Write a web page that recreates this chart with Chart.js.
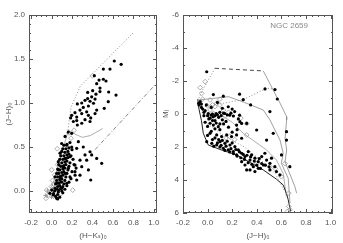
<!DOCTYPE html>
<html>
<head>
<meta charset="utf-8">
<script src="https://cdn.jsdelivr.net/npm/chart.js@4.4.1/dist/chart.umd.min.js"></script>
<style>
html, body { margin: 0; padding: 0; background: #fff; }
#wrap { position: relative; width: 343px; height: 243px; overflow: hidden; }
canvas { position: absolute; top: 0; }
#ccPlot { left: 0; }
#cmdPlot { left: 157px; }
</style>
</head>
<body>
<div id="wrap">
  <canvas id="ccPlot" width="170" height="243"></canvas>
  <canvas id="cmdPlot" width="186" height="243"></canvas>
</div>
<script>
// ---- tick labels ----
const colorTicksX = [-0.2, 0.0, 0.2, 0.4, 0.6, 0.8, 1.0];
const colorTicksJH = [0.0, 0.5, 1.0, 1.5, 2.0];
const magTicks = [-6, -4, -2, 0, 2, 4, 6];

// ---- left panel: (J-H)0 vs (H-Ks)0 ----
const ccMembers = [
  [0.613,1.477],[0.68,1.44],[0.506,1.386],[0.571,1.386],[0.418,1.31],[0.506,1.27],[0.532,1.25],
  [0.464,1.26],[0.441,1.22],[0.473,1.17],[0.402,1.14],[0.473,1.13],[0.434,1.10],[0.353,1.12],
  [0.392,1.07],[0.425,1.045],[0.353,1.05],[0.376,1.02],[0.327,1.03],[0.295,1.00],[0.36,0.966],
  [0.41,0.997],[0.554,1.015],[0.63,1.09],[0.558,1.125],[0.515,0.94],[0.441,0.92],[0.252,0.99],
  [0.31,0.95],[0.278,0.92],[0.229,0.89],[0.197,0.86],[0.246,0.84],[0.36,0.86],[0.425,0.88],
  [0.383,0.83],[0.327,0.81],[0.295,0.88],[0.343,0.90],[0.187,0.83],[0.246,0.80],
  [0.213,0.79],[0.252,0.75],[0.295,0.77],[0.376,0.79],[0.164,0.67],[0.197,0.655],[0.262,0.56],
  [0.132,0.62],[0.099,0.54],[0.148,0.52],[0.197,0.50],[0.246,0.485],[0.31,0.50],[0.376,0.446],
  [0.327,0.41],[0.392,0.41],[0.441,0.37],[0.49,0.315],[0.343,0.35],[0.278,0.35],[0.295,0.276],
  [0.229,0.295],[0.18,0.39],[0.132,0.37],[0.083,0.43],[0.066,0.333],[0.115,0.276],[0.164,0.258],
  [0.229,0.22],[0.278,0.18],[0.36,0.24],[0.383,0.125],[0.246,0.125],[0.18,0.16],[0.132,0.20],
  [0.083,0.16],[0.066,0.24],[0.034,0.16],[0.05,0.087],[0.099,0.105],[0.148,0.087],[0.034,0.03],
  [0.066,-0.01],[0.099,0.03],[0.017,-0.045],[0.05,-0.083],[-0.015,-0.026],[0.002,0.011],
  [0.04,-0.06],[0.06,-0.04],[0.08,-0.07],[0.03,0.00],[0.05,0.02],[0.07,0.01],[0.09,0.03],
  [0.10,0.00],[0.06,0.05],[0.08,0.06],[0.11,0.05],[0.04,0.08],[0.07,0.09],[0.09,0.10],[0.12,0.08],
  [0.05,0.12],[0.08,0.13],[0.10,0.14],[0.13,0.12],[0.06,0.16],[0.09,0.17],[0.11,0.18],[0.14,0.16],
  [0.07,0.20],[0.10,0.21],[0.12,0.22],[0.15,0.20],[0.08,0.24],[0.11,0.25],[0.13,0.26],[0.16,0.24],
  [0.09,0.28],[0.12,0.29],[0.14,0.30],[0.17,0.28],[0.10,0.32],[0.13,0.33],[0.15,0.34],[0.18,0.32],
  [0.11,0.36],[0.14,0.37],[0.16,0.38],[0.12,0.40],[0.15,0.41],[0.17,0.42],[0.13,0.44],[0.16,0.45],
  [0.14,0.48],[0.17,0.49],[0.12,0.52],[0.15,0.53],[0.18,0.55],[0.20,0.47],[0.21,0.36],[0.19,0.40],
  [0.22,0.30],[0.24,0.26],[0.20,0.22],[0.23,0.18],[0.19,0.14],[0.17,0.10],[0.15,0.06],[0.13,0.02],
  [0.11,-0.02],[0.06,-0.09],[0.02,-0.03],[0.08,0.36],[0.07,0.30],[0.06,0.25],[0.05,0.20],
  [0.09,0.40],[0.10,0.45],[0.11,0.48]
];
const ccOpen = [
  [0.056,0.48],[0.002,0.24],[0.207,0.01],[-0.047,0.01],[-0.031,-0.045],[-0.054,-0.083],[0.0,0.05],
  [0.02,0.08],[0.03,0.03],[-0.01,-0.02],[0.01,0.12],[0.04,-0.02],[0.02,-0.06],[0.05,0.10],
  [0.03,0.18],[0.06,0.30],[0.40,1.31],[0.17,0.66],[0.19,0.60],[0.22,0.69],[0.07,0.05],[0.09,-0.03]
];
const ccCross = [[-0.04,0.00],[-0.06,-0.05],[0.00,-0.07],[0.01,0.02]];
const ccLocus = [[-0.05,-0.08],[0.02,0.10],[0.08,0.35],[0.13,0.55],[0.164,0.69],[0.24,0.64],[0.30,0.61],[0.38,0.63],[0.50,0.71]];
const ccRedUpper = [[0.16,0.69],[0.19,0.95],[0.28,1.19],[0.80,1.80]];
const ccRedLower = [[0.425,0.47],[1.03,1.23]];

// ---- right panel: MJ vs (J-H)0 ----
const cmdMembers = [
  [-0.007,-2.56],[-0.073,-0.65],[-0.07,-0.55],[0.047,-1.18],[0.128,-1.08],[0.29,-0.87],[0.467,-1.52],
  [0.548,-1.48],[0.567,-0.91],[0.507,-0.15],[0.168,-0.44],[0.005,-0.03],[0.03,0.07],[0.07,-0.03],
  [0.14,-0.03],[0.18,0.07],[0.26,0.07],[0.045,0.17],[0.02,0.56],[0.047,0.67],[0.087,0.77],
  [0.236,0.67],[0.263,0.465],[0.318,0.57],[0.02,1.17],[0.074,1.27],[0.114,1.37],[0.155,1.27],
  [0.195,1.37],[0.236,1.27],[0.277,1.47],[-0.007,1.68],[0.034,1.78],[0.074,1.88],[0.101,1.68],
  [0.141,1.78],[0.182,1.88],[0.222,1.98],[0.128,2.08],[0.168,2.18],[0.209,2.28],[0.25,2.18],
  [0.277,2.38],[0.236,2.48],[0.304,2.58],[0.331,2.28],[0.358,2.48],[0.345,2.79],[0.385,2.68],
  [0.412,2.89],[0.44,2.58],[0.466,2.38],[0.48,2.79],[0.507,2.99],[0.52,2.68],[0.453,3.09],
  [0.412,3.29],[0.372,3.19],[0.345,3.39],[0.385,3.49],[0.304,3.09],[0.318,3.39],[0.277,2.89],
  [0.547,3.19],[0.56,3.49],[0.507,3.39],[0.588,3.69],[0.601,2.48],[0.642,1.58],[0.642,1.07],
  [0.669,3.19],[0.48,1.58],[0.534,1.17],[0.399,0.97],[0.277,0.57],
  [0.06,1.45],[0.09,1.55],[0.12,1.60],[0.16,1.65],[0.20,1.75],[0.05,1.95],[0.10,2.0],[0.15,1.95],
  [0.19,2.10],[0.23,2.15],[0.26,2.30],[0.29,2.45],[0.32,2.50],[0.35,2.60],[0.38,2.85],[0.42,2.70],
  [0.44,3.00],[0.47,3.10],[0.50,3.20],[0.33,2.95],[0.36,3.05],[0.40,3.10],[0.43,3.30],[0.30,2.75],
  [0.27,2.65],[0.24,2.55],[0.21,2.40],[0.18,2.30],[0.14,2.20],[0.11,1.90],[0.08,1.75],[0.04,1.55],
  [0.0,1.30],[0.03,1.05],[0.06,0.90],[0.10,0.95],[0.13,0.60],[0.17,0.80],[0.20,1.10],[0.24,0.95],
  [0.01,0.30],[0.09,0.20],[0.12,0.35],[0.06,0.40],[-0.03,0.10],[-0.05,-0.40],[-0.02,-0.20],
  [0.10,-0.10],[0.22,-0.15],[0.08,-0.70],[0.25,0.30],
  [-0.06,-0.75],[-0.05,-0.6],[-0.04,-0.3],[-0.03,-0.1],[0.0,0.1],[0.02,0.25],[0.04,0.0],[0.06,0.1],
  [0.08,0.05],[0.11,0.1],[0.13,-0.05],[0.16,0.05],[0.19,-0.05],[0.21,0.12],[0.04,0.4],[0.07,0.55],
  [0.0,0.75],[-0.02,0.5],[0.10,0.6],[0.15,0.45],[-0.01,-0.55],[0.03,-0.4],[0.12,-0.35],[0.20,-0.3],
  [0.35,-0.55],[0.26,-1.2]
];
const cmdOpen = [
  [-0.02,-1.96],[-0.048,-1.25],[0.02,-0.85],[0.074,-0.65],[0.128,-0.24],[0.02,-0.24],[0.047,-0.03],
  [0.318,0.58],[0.10,-0.55],[0.06,-0.45],[0.318,1.27],[0.507,3.19],[0.63,3.0],[0.66,4.8],
  [0.66,5.6],[0.67,5.8],[0.65,5.9],[0.18,1.35],[0.15,1.45],[0.22,1.55],[0.40,3.00],[0.55,3.3],
  [0.60,3.8],[-0.04,-0.9],[0.02,0.15],[0.05,0.28],[0.09,0.05],[0.14,0.12],[0.0,-0.5],[-0.06,-1.6],
  [0.1,-0.9],[0.04,-0.55],[0.17,-0.1],[0.27,0.25]
];
const cmdZams = [[-0.08,-0.9],[-0.07,-0.3],[-0.05,0.4],[-0.035,1.17],[0.006,1.88],[0.12,2.2],[0.236,2.48],
  [0.35,2.95],[0.453,3.39],[0.56,3.95],[0.615,4.3],[0.645,4.9],[0.656,5.2],[0.675,5.9]];
const cmdTopDash = [[0.06,-2.77],[0.453,-2.61]];
const cmdTopDot = [[0.06,-2.77],[-0.048,-1.35],[-0.076,-0.85]];
const cmdIsoA = [[0.453,-2.61],[0.53,-1.5],[0.59,-0.65],[0.643,0.165],[0.643,0.36],[0.63,1.47],[0.643,2.18],
  [0.63,2.89],[0.656,3.39],[0.71,4.4],[0.724,4.8]];
const cmdIsoB = [[-0.076,-0.85],[0.05,-0.95],[0.17,-1.05],[0.30,-0.7],[0.453,-0.24],[0.507,0.36],[0.589,1.58],
  [0.615,2.38],[0.60,2.99],[0.656,3.9],[0.67,5.4]];
const cmdIsoC = [[-0.02,-0.45],[0.13,-0.65],[0.29,-0.87],[0.48,-1.56],[0.56,-1.5]];
const cmdIsoD = [[0.10,0.0],[0.20,0.5],[0.29,1.17],[0.48,2.18],[0.56,2.79],[0.615,3.6],[0.63,4.4],[0.64,5.0]];
const cmdIsoE = [[0.0,0.6],[0.15,1.4],[0.30,2.0],[0.45,2.9],[0.55,3.6],[0.62,4.6]];

Chart.defaults.font.family = '"Liberation Sans", "DejaVu Sans"';
Chart.defaults.font.size = 8;
Chart.defaults.color = '#555';

const xy = arr => arr.map(p => ({ x: p[0], y: p[1] }));
const range = (a, b, s) => { const out = []; for (let v = a; v <= b + 1e-9; v += s) out.push(+v.toFixed(3)); return out; };

// box and inward ticks on all four sides, IDL style
function framePlugin(xMajor, xMinor, yMajor, yMinor, label) {
  return {
    id: 'frame',
    afterDatasetsDraw(chart) {
      const a = chart.chartArea, ctx = chart.ctx;
      ctx.save();
      ctx.strokeStyle = '#555';
      ctx.lineWidth = 1;
      ctx.strokeRect(Math.round(a.left) + 0.5, Math.round(a.top) + 0.5, Math.round(a.width) - 1, Math.round(a.height) - 1);
      const marks = (scale, vals, len) => {
        vals.forEach(v => {
          const p = Math.round(scale.getPixelForValue(v)) + 0.5;
          ctx.beginPath();
          if (scale.isHorizontal()) {
            ctx.moveTo(p, a.bottom); ctx.lineTo(p, a.bottom - len);
            ctx.moveTo(p, a.top); ctx.lineTo(p, a.top + len);
          } else {
            ctx.moveTo(a.left, p); ctx.lineTo(a.left + len, p);
            ctx.moveTo(a.right, p); ctx.lineTo(a.right - len, p);
          }
          ctx.stroke();
        });
      };
      marks(chart.scales.x, xMinor, 2);
      marks(chart.scales.x, xMajor, 4);
      marks(chart.scales.y, yMinor, 2);
      marks(chart.scales.y, yMajor, 4);
      if (label) {
        ctx.fillStyle = '#888';
        ctx.font = '8px "Liberation Sans"';
        ctx.textAlign = 'right';
        ctx.textBaseline = 'middle';
        ctx.fillText(label, a.right - 25, a.top + 11);
      }
      ctx.restore();
    }
  };
}

function linScale(min, max, ticks, fmt, title, fixed, horizontal, reverse) {
  return {
    type: 'linear',
    min: min,
    max: max,
    reverse: !!reverse,
    grid: { display: false, drawTicks: false, tickLength: 0 },
    border: { display: false },
    afterBuildTicks: s => { s.ticks = ticks.map(v => ({ value: v })); },
    afterFit: s => { if (horizontal) s.height = fixed; else s.width = fixed; },
    ticks: { padding: horizontal ? 5 : 4, autoSkip: false, maxRotation: 0, callback: v => fmt(v) },
    title: { display: true, text: title, padding: horizontal ? { top: 0, bottom: 2 } : { top: 4, bottom: 0 } }
  };
}

const pts = (data, style) => Object.assign({ data: xy(data), showLine: false }, style);
const dotStyle = { pointStyle: 'circle', pointRadius: 1.6, backgroundColor: '#000', borderColor: '#000', borderWidth: 0 };
const openStyle = { pointStyle: 'rectRot', pointRadius: 2.4, backgroundColor: 'rgba(0,0,0,0)', borderColor: '#999', borderWidth: 0.8 };
const line = (data, color, dash, w) => ({ data: xy(data), showLine: true, pointRadius: 0, borderColor: color, borderWidth: w || 0.8, borderDash: dash || [], fill: false });

new Chart(document.getElementById('ccPlot'), {
  type: 'scatter',
  data: {
    datasets: [
      pts(ccMembers, dotStyle),
      pts(ccOpen, openStyle),
      pts(ccCross, { pointStyle: 'cross', pointRadius: 2, borderColor: '#888', borderWidth: 0.8 }),
      line(ccLocus, '#999'),
      line(ccRedUpper, '#888', [1, 2], 1),
      line(ccRedLower, '#888', [4, 2, 1, 2], 1)
    ]
  },
  options: {
    responsive: false,
    animation: false,
    layout: { padding: { left: 0, right: 13, top: 15, bottom: 0 } },
    plugins: { legend: { display: false }, tooltip: { enabled: false } },
    scales: {
      x: linScale(-0.22, 1.03, colorTicksX, v => v.toFixed(1), '(H\u2212K\u209B)\u2080', 30, true),
      y: linScale(-0.25, 2.0, colorTicksJH, v => v.toFixed(1), '(J\u2212H)\u2080', 29, false)
    }
  },
  plugins: [framePlugin(colorTicksX, range(-0.2, 1.0, 0.05), colorTicksJH, range(-0.2, 2.0, 0.1), null)]
});

new Chart(document.getElementById('cmdPlot'), {
  type: 'scatter',
  data: {
    datasets: [
      pts(cmdMembers, dotStyle),
      pts(cmdOpen, openStyle),
      line(cmdZams, '#222', [], 1),
      line(cmdTopDash, '#333', [4, 3], 0.9),
      line(cmdTopDot, '#888', [1, 2], 1),
      line(cmdIsoA, '#888'),
      line(cmdIsoB, '#888'),
      line(cmdIsoC, '#888', [1, 2], 1),
      line(cmdIsoD, '#999'),
      line(cmdIsoE, '#999', [1, 2], 1)
    ]
  },
  options: {
    responsive: false,
    animation: false,
    layout: { padding: { left: 0, right: 10, top: 15, bottom: 0 } },
    plugins: { legend: { display: false }, tooltip: { enabled: false } },
    scales: {
      x: linScale(-0.2, 1.02, colorTicksX, v => v.toFixed(1), '(J\u2212H)\u2080', 30, true),
      y: linScale(-6, 6, magTicks, v => String(v), 'M\u2C7C', 26, false, true)
    }
  },
  plugins: [framePlugin(colorTicksX, range(-0.2, 1.0, 0.05), magTicks, range(-6, 6, 1), 'NGC 2659')]
});
</script>
</body>
</html>
